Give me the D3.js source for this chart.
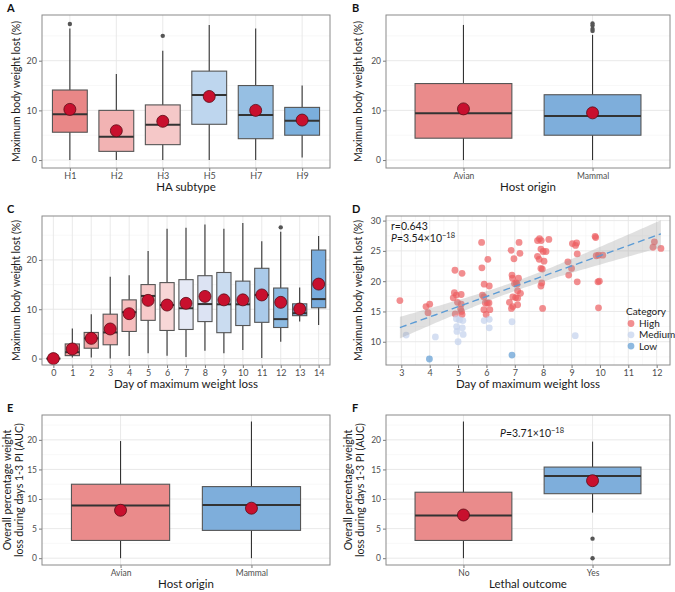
<!DOCTYPE html>
<html>
<head>
<meta charset="utf-8">
<script src="https://cdn.jsdelivr.net/npm/d3@7"></script>
<style>
body { margin: 0; background: #fff; }
text { font-family: Lato, "Open Sans", sans-serif; }
</style>
</head>
<body>
<div id="chart"></div>
<script>
// ---- data ----
// box stats: [min, q1, median, q3, max]
var subtypes = ["H1", "H2", "H3", "H5", "H7", "H9"];
var subtypeStats = [[0, 5.6, 9.2, 14.1, 26.5], [0, 1.75, 4.7, 10.0, 17.3], [0, 3.1, 7.1, 11.1, 22.0],
                    [0, 7.2, 13.1, 17.9, 27.2], [0, 4.3, 9.05, 15.0, 26.5], [0.5, 5.0, 7.9, 10.6, 15.0]];
var subtypeMeans = [10.2, 5.9, 7.8, 12.8, 10.0, 8.05];
var subtypeOutliers = [[27.4], [], [25.0], [], [], []];

var hosts = ["Avian", "Mammal"];
var hostStats = [[0, 4.4, 9.4, 15.4, 27.2], [0, 5.0, 8.86, 13.15, 25.2]];
var hostMeans = [10.3, 9.5];
var hostOutliers = [[], [26.0, 26.4, 27.1, 27.5]];

var days = ["0", "1", "2", "3", "4", "5", "6", "7", "8", "9", "10", "11", "12", "13", "14"];
var dayStats = [[0, 0, 0, 0, 0.5], [0.2, 0.6, 1.3, 2.97, 6.1], [0.2, 2.1, 4.1, 5.3, 9.0], [0, 2.8, 5.3, 9.0, 16.6],
                [0.5, 5.5, 9.4, 11.9, 16.9], [1.1, 7.75, 12.7, 15.0, 21.8], [0.6, 5.7, 10.85, 15.4, 26.3],
                [0.3, 5.9, 10.2, 16.0, 26.5], [1.6, 7.5, 11.05, 16.8, 27.2], [1.1, 5.25, 11.0, 17.45, 26.3],
                [1.75, 6.7, 11.0, 15.7, 27.5], [0.1, 7.35, 12.9, 18.3, 23.8], [3.4, 6.3, 8.0, 14.3, 25.7],
                [7.5, 8.7, 9.2, 11.1, 14.4], [6.8, 10.3, 12.06, 22.0, 24.85]];
var dayMeans = [0, 1.95, 4.1, 6.0, 9.1, 11.8, 10.85, 11.2, 12.6, 11.9, 11.9, 12.9, 11.4, 10.05, 15.1];
var dayOutliers = [[], [], [], [], [], [], [], [], [], [], [], [], [26.6], [], []];

// panel D points: [day of max loss, max weight lost]
var highPoints = [[2.95, 16.8], [3.87, 15.8], [4.0, 16.2], [3.94, 14.8],
  [4.89, 21.8], [5.14, 21.3], [4.87, 18.1], [4.83, 17.25], [4.94, 17.7], [5.11, 17.8], [4.98, 16.5],
  [5.11, 16.2], [5.09, 15.4], [5.14, 14.5], [4.9, 14.6], [5.12, 15.0],
  [5.83, 26.4], [6.05, 23.6], [5.84, 22.2], [5.92, 19.5], [6.1, 19.2], [5.86, 17.7], [5.91, 17.4],
  [5.96, 16.4], [6.03, 16.4], [6.09, 16.4], [5.91, 15.3], [6.12, 15.3], [5.99, 14.5],
  [6.87, 25.1], [7.15, 26.4], [6.97, 23.7], [7.18, 24.6], [6.9, 21.0], [6.92, 20.5], [7.13, 20.5],
  [7.05, 19.7], [7.08, 19.5], [6.99, 19.6], [7.1, 18.4], [7.2, 18.0], [6.81, 16.5], [6.93, 15.8],
  [7.1, 16.1], [7.03, 17.3], [7.1, 17.2], [6.88, 15.5], [6.93, 17.4],
  [7.87, 27.0], [7.8, 26.7], [7.93, 26.7], [8.2, 26.9], [7.92, 25.3], [8.0, 24.9], [8.1, 24.9],
  [7.8, 24.1], [7.86, 23.6], [8.03, 23.3], [7.92, 22.1], [7.97, 22.0], [7.95, 19.7], [7.92, 19.2], [7.98, 15.5],
  [9.03, 26.2], [9.18, 26.3], [9.14, 25.9], [9.2, 24.5], [8.87, 23.2], [9.0, 22.1], [8.9, 21.0], [9.2, 19.9],
  [9.83, 27.4], [9.85, 27.2], [9.87, 24.2], [9.95, 24.3], [10.1, 24.3], [9.93, 19.9], [9.98, 20.0], [9.95, 15.6],
  [11.92, 26.5], [11.87, 25.6], [12.15, 25.4]];
var mediumPoints = [[3.17, 11.1], [4.2, 10.8], [4.94, 13.8], [5.05, 13.6], [5.17, 13.5], [4.95, 12.5],
  [5.15, 12.3], [4.96, 11.7], [5.18, 11.2], [5.0, 10.0], [5.92, 13.5], [6.1, 13.7], [6.1, 12.3],
  [6.9, 13.3], [9.13, 11.0]];
var lowPoints = [[3.99, 7.15], [6.9, 7.8]];
var categories = ["High", "Medium", "Low"];

var aucHostStats = [[0, 3.0, 8.9, 12.5, 19.8], [0, 4.7, 9.0, 12.1, 23.1]];
var aucHostMeans = [8.1, 8.45];

var outcomes = ["No", "Yes"];
var outcomeStats = [[0, 3.0, 7.2, 11.15, 23.1], [7.7, 10.9, 13.9, 15.4, 19.7]];
var outcomeMeans = [7.3, 13.1];
var outcomeOutliers = [[], [3.3, 0]];

// ---- drawing ----
var w = 675, h = 592;
var svg = d3.select("#chart").append("svg").attr("width", w).attr("height", h);

var redFill = "#EA8B8B", blueFill = "#7EAEDB";
var subtypeFills = ["#E98787", "#F2B3B3", "#F5C8C8", "#BED6EE", "#96BFE3", "#7BAFDC"];
var dayFills = ["#EE9A9A", "#EE9A9A", "#F0A8A8", "#F0AFAF", "#F5BEBE", "#F7CACA", "#F7D7D7", "#E5E9F5",
                "#DCE3F3", "#CADCF0", "#B9D2EC", "#AACAE9", "#8EBBE2", "#89B7E1", "#78ACDD"];
var catColors = {High: "#EC5E61", Medium: "#C3D1EC", Low: "#5E9BD3"};

function setupPanel(p) {
    var g = svg.append("g");
    var y = d3.scaleLinear().domain(p.yDomain).range([p.bottom, p.top]);
    var x;
    if (p.cats) {
        x = d3.scalePoint().domain(p.cats).range([p.left, p.right]).padding(0.6);
    } else {
        x = d3.scaleLinear().domain(p.xDomain).range([p.left, p.right]);
    }

    // minor then major grid
    p.yMinor.forEach(function(v) {
        g.append("line").attr("x1", p.left).attr("x2", p.right).attr("y1", y(v)).attr("y2", y(v))
            .attr("stroke", "#f3f3f3").attr("stroke-width", 0.6);
    });
    if (p.xMinor) p.xMinor.forEach(function(v) {
        g.append("line").attr("y1", p.top).attr("y2", p.bottom).attr("x1", x(v)).attr("x2", x(v))
            .attr("stroke", "#f3f3f3").attr("stroke-width", 0.6);
    });
    p.yTicks.forEach(function(v) {
        g.append("line").attr("x1", p.left).attr("x2", p.right).attr("y1", y(v)).attr("y2", y(v))
            .attr("stroke", "#e6e6e6").attr("stroke-width", 0.9);
    });
    var xVals = p.cats ? p.cats : p.xTicks;
    xVals.forEach(function(v) {
        g.append("line").attr("y1", p.top).attr("y2", p.bottom).attr("x1", x(v)).attr("x2", x(v))
            .attr("stroke", "#e6e6e6").attr("stroke-width", 0.9);
    });

    var yAxis = d3.axisLeft(y).tickValues(p.yTicks).tickSize(3).tickPadding(2);
    var xAxis = d3.axisBottom(x).tickSize(3).tickPadding(2);
    if (!p.cats) xAxis.tickValues(p.xTicks);

    var ya = g.append("g").attr("transform", "translate(" + p.left + ",0)").call(yAxis);
    var xa = g.append("g").attr("transform", "translate(0," + p.bottom + ")").call(xAxis);
    [ya, xa].forEach(function(a) {
        a.select(".domain").remove();
        a.selectAll("line").attr("stroke", "#555").attr("stroke-width", 0.8);
        a.selectAll("text").attr("fill", "#4d4d4d").style("font-size", p.tickSize || "9px")
            .style("font-family", "Lato, sans-serif");
    });

    // titles
    g.append("text").attr("x", (p.left + p.right) / 2).attr("y", p.bottom + 23)
        .attr("text-anchor", "middle").attr("fill", "#1a1a1a").style("font-size", "11.5px").text(p.xTitle);
    var cy = (p.top + p.bottom) / 2;
    p.yTitle.forEach(function(line, i) {
        g.append("text").attr("transform", "translate(" + p.yTitleX[i] + "," + cy + ") rotate(-90)")
            .attr("text-anchor", "middle").attr("dy", "0.35em").attr("fill", "#1a1a1a")
            .style("font-size", "10.5px").text(line);
    });
    g.append("text").attr("x", p.labelX).attr("y", p.top - 3).attr("fill", "#111")
        .style("font-size", "11px").style("font-weight", "bold").text(p.label);

    return {g: g, x: x, y: y, p: p};
}

function frameOn(pan) {
    var p = pan.p;
    pan.g.append("rect").attr("x", p.left).attr("y", p.top)
        .attr("width", p.right - p.left).attr("height", p.bottom - p.top)
        .attr("fill", "none").attr("stroke", "#8a8a8a").attr("stroke-width", 1);
}

function drawBoxes(pan, cats, stats, means, fills, outliers) {
    var x = pan.x, y = pan.y, g = pan.g;
    var bw = x.step() * 0.75;
    cats.forEach(function(c, i) {
        var s = stats[i], cx = x(c);
        g.append("line").attr("x1", cx).attr("x2", cx).attr("y1", y(s[0])).attr("y2", y(s[4]))
            .attr("stroke", "#333").attr("stroke-width", 1.1);
        g.append("rect").attr("x", cx - bw / 2).attr("width", bw)
            .attr("y", y(s[3])).attr("height", Math.max(0, y(s[1]) - y(s[3])))
            .attr("fill", fills[i]).attr("stroke", "#555").attr("stroke-width", 1.1);
        g.append("line").attr("x1", cx - bw / 2).attr("x2", cx + bw / 2).attr("y1", y(s[2])).attr("y2", y(s[2]))
            .attr("stroke", "#333").attr("stroke-width", 2);
        (outliers ? outliers[i] : []).forEach(function(o) {
            g.append("circle").attr("cx", cx).attr("cy", y(o)).attr("r", 2.2).attr("fill", "#555");
        });
    });
    cats.forEach(function(c, i) {
        g.append("circle").attr("cx", x(c)).attr("cy", y(means[i])).attr("r", 6)
            .attr("fill", "#C8102E").attr("stroke", "#5a0a14").attr("stroke-width", 0.8);
    });
}

var wtTitle = ["Maximum body weight lost (%)"];
var aucTitle = ["Overall percentage weight", "loss during days 1-3 PI (AUC)"];

// A
var pA = setupPanel({left: 42, right: 330, top: 15, bottom: 168, cats: subtypes,
    yDomain: [-1.6, 29.2], yTicks: [0, 10, 20], yMinor: [5, 15, 25],
    xTitle: "HA subtype", yTitle: wtTitle, yTitleX: [16], label: "A", labelX: 7});
drawBoxes(pA, subtypes, subtypeStats, subtypeMeans, subtypeFills, subtypeOutliers);
frameOn(pA);

// B
var pB = setupPanel({left: 386, right: 670, top: 15, bottom: 168, cats: hosts, tickSize: "8.5px",
    yDomain: [-1.6, 29.2], yTicks: [0, 10, 20], yMinor: [5, 15, 25],
    xTitle: "Host origin", yTitle: wtTitle, yTitleX: [358], label: "B", labelX: 352});
drawBoxes(pB, hosts, hostStats, hostMeans, [redFill, blueFill], hostOutliers);
frameOn(pB);

// C
var pC = setupPanel({left: 42, right: 330, top: 216, bottom: 365, cats: days,
    yDomain: [-1.3, 28.9], yTicks: [0, 10, 20], yMinor: [5, 15, 25],
    xTitle: "Day of maximum weight loss", yTitle: wtTitle, yTitleX: [16], label: "C", labelX: 7});
drawBoxes(pC, days, dayStats, dayMeans, dayFills, dayOutliers);
frameOn(pC);

// D
var pD = setupPanel({left: 386, right: 670, top: 216, bottom: 365,
    xDomain: [2.46, 12.47], xTicks: d3.range(3, 13), xMinor: d3.range(2.5, 12.6, 1),
    yDomain: [6.16, 30.76], yTicks: [10, 15, 20, 25, 30], yMinor: [7.5, 12.5, 17.5, 22.5, 27.5],
    xTitle: "Day of maximum weight loss", yTitle: wtTitle, yTitleX: [358], label: "D", labelX: 352});
(function() {
    var x = pD.x, y = pD.y, g = pD.g;
    var all = highPoints.concat(mediumPoints, lowPoints);
    var n = all.length;
    var mx = d3.mean(all, d => d[0]), my = d3.mean(all, d => d[1]);
    var sxx = d3.sum(all, d => (d[0] - mx) * (d[0] - mx));
    var sxy = d3.sum(all, d => (d[0] - mx) * (d[1] - my));
    var b = sxy / sxx, a = my - b * mx;
    var s = Math.sqrt(d3.sum(all, d => Math.pow(d[1] - (a + b * d[0]), 2)) / (n - 2));
    var xs = d3.extent(all, d => d[0]);
    var grid = d3.range(0, 81).map(i => xs[0] + (xs[1] - xs[0]) * i / 80);
    var band = grid.map(function(v) {
        var fit = a + b * v, se = s * Math.sqrt(1 / n + (v - mx) * (v - mx) / sxx);
        return {x: v, lo: fit - 1.98 * se, hi: fit + 1.98 * se, fit: fit};
    });
    var pts = [{c: "High", d: highPoints}, {c: "Medium", d: mediumPoints}, {c: "Low", d: lowPoints}];
    pts.forEach(function(set) {
        g.selectAll(null).data(set.d).enter().append("circle")
            .attr("cx", d => x(d[0])).attr("cy", d => y(d[1])).attr("r", 3.4)
            .attr("fill", catColors[set.c]).attr("fill-opacity", 0.7);
    });
    g.append("path").datum(band)
        .attr("d", d3.area().x(d => x(d.x)).y0(d => y(d.lo)).y1(d => y(d.hi)))
        .attr("fill", "#999").attr("fill-opacity", 0.3);
    g.append("path").datum(band)
        .attr("d", d3.line().x(d => x(d.x)).y(d => y(d.fit)))
        .attr("fill", "none").attr("stroke", "#5B9BD5").attr("stroke-width", 1.4)
        .attr("stroke-dasharray", "7,4");

    g.append("text").attr("x", 391).attr("y", 230).attr("fill", "#1a1a1a").style("font-size", "10.5px").text("r=0.643");
    var pt = g.append("text").attr("x", 391).attr("y", 242).attr("fill", "#1a1a1a").style("font-size", "10.5px");
    pt.append("tspan").style("font-style", "italic").text("P");
    pt.append("tspan").text("=3.54×10");
    pt.append("tspan").attr("dy", -4).style("font-size", "7.5px").text("\u221218");

    // legend
    g.append("text").attr("x", 626).attr("y", 314.5).attr("fill", "#1a1a1a").style("font-size", "10px").text("Category");
    categories.forEach(function(c, i) {
        var cy = 323.5 + i * 11.3;
        g.append("circle").attr("cx", 631).attr("cy", cy).attr("r", 3.4)
            .attr("fill", catColors[c]).attr("fill-opacity", 0.7);
        g.append("text").attr("x", 639).attr("y", cy).attr("dy", "0.35em").attr("fill", "#1a1a1a")
            .style("font-size", "10px").text(c);
    });
})();
frameOn(pD);

// E
var pE = setupPanel({left: 42, right: 330, top: 415, bottom: 565, cats: hosts, tickSize: "8.5px",
    yDomain: [-1.15, 24.2], yTicks: [0, 5, 10, 15, 20], yMinor: [2.5, 7.5, 12.5, 17.5, 22.5],
    xTitle: "Host origin", yTitle: aucTitle, yTitleX: [7, 19], label: "E", labelX: 7});
drawBoxes(pE, hosts, aucHostStats, aucHostMeans, [redFill, blueFill], null);
frameOn(pE);

// F
var pF = setupPanel({left: 386, right: 670, top: 415, bottom: 565, cats: outcomes, tickSize: "8.5px",
    yDomain: [-1.15, 24.2], yTicks: [0, 5, 10, 15, 20], yMinor: [2.5, 7.5, 12.5, 17.5, 22.5],
    xTitle: "Lethal outcome", yTitle: aucTitle, yTitleX: [348, 360], label: "F", labelX: 352});
drawBoxes(pF, outcomes, outcomeStats, outcomeMeans, [redFill, blueFill], outcomeOutliers);
var pf = pF.g.append("text").attr("x", 500).attr("y", 437).attr("fill", "#1a1a1a").style("font-size", "10.5px");
pf.append("tspan").style("font-style", "italic").text("P");
pf.append("tspan").text("=3.71×10");
pf.append("tspan").attr("dy", -4).style("font-size", "7.5px").text("\u221218");
frameOn(pF);
</script>
</body>
</html>
